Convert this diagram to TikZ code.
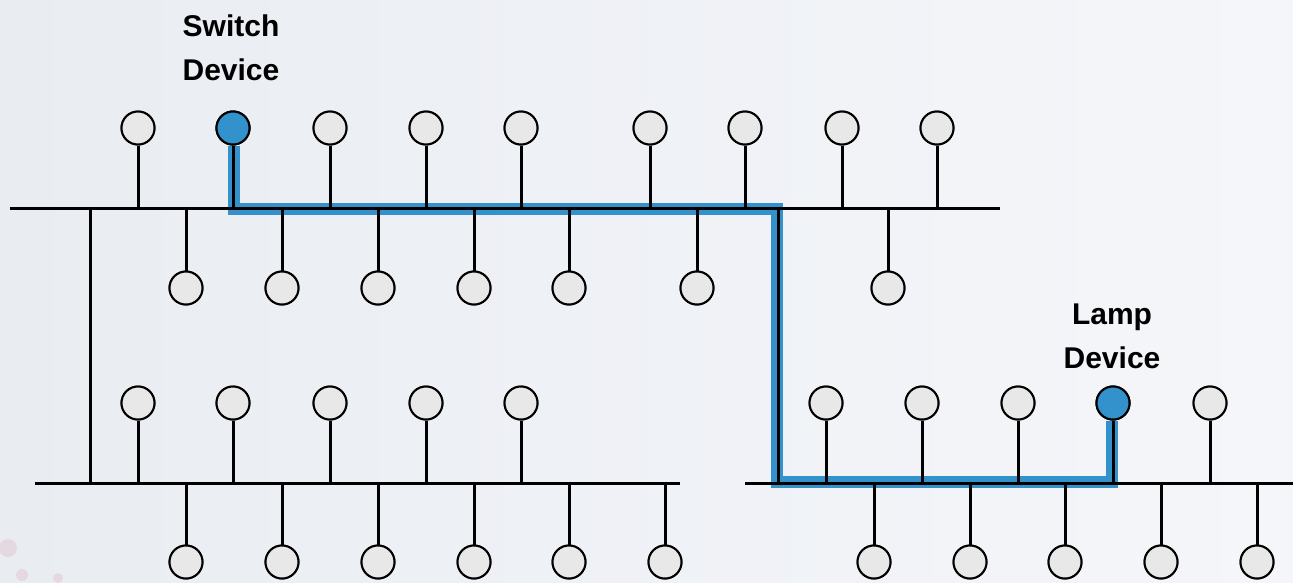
\documentclass[tikz,border=0pt]{standalone}
\usepackage{fontspec}
\setmainfont{Liberation Sans}
\usetikzlibrary{calc}

\definecolor{bgleft}{HTML}{E9EDF2}
\definecolor{bgright}{HTML}{F5F6FA}
\definecolor{nodegrey}{HTML}{E8E8E8}
\definecolor{pathblue}{HTML}{3391CC}
\definecolor{blushpink}{HTML}{D9AEB8}

\tikzset{
  device/.style={circle, draw=black, line width=2pt, fill=nodegrey,
    minimum size=33pt, inner sep=0pt},
  active/.style={device, fill=pathblue},
  bus/.style={line width=3pt, draw=black},
  stem/.style={line width=3pt, draw=black},
  route/.style={line width=12pt, draw=pathblue, line join=miter},
  caption/.style={font=\bfseries\fontsize{30}{44}\selectfont, align=center,
    inner sep=0pt, text=black}
}

\begin{document}
\begin{tikzpicture}[x=1pt, y=-1pt]
  % canvas
  \useasboundingbox (0,0) rectangle (1293,582);
  \shade[left color=bgleft, right color=bgright] (0,0) rectangle (1293,582);
  \foreach \cx/\cy/\r in {8/548/9, 22/575/6, 58/578/5}
    \fill[blushpink, opacity=0.3] (\cx,\cy) circle (\r);

  % bus end points and junctions
  \coordinate (topL) at (10,208);
  \coordinate (topR) at (1000,208);
  \coordinate (lowLL) at (35,483);
  \coordinate (lowLR) at (680,483);
  \coordinate (lowRL) at (745,483);
  \coordinate (lowRR) at (1293,483);
  \coordinate (linkA) at (90,208);
  \coordinate (linkB) at (778,208);

  % devices
  \foreach \x [count=\i] in {138,233,330,426,521,650,745,842,937}
    \node[device] (tu\i) at (\x,128) {};
  \foreach \x [count=\i] in {186,282,378,474,569,697,888}
    \node[device] (td\i) at (\x,288) {};
  \foreach \x [count=\i] in {138,233,330,426,521}
    \node[device] (lu\i) at (\x,403) {};
  \foreach \x [count=\i] in {186,282,378,474,569,665}
    \node[device] (ld\i) at (\x,562) {};
  \foreach \x [count=\i] in {826,922,1018,1113,1210}
    \node[device] (ru\i) at (\x,403) {};
  \foreach \x [count=\i] in {874,970,1065,1161,1257}
    \node[device] (rd\i) at (\x,562) {};

  % switch and lamp
  \node[active] (switch) at (tu2) {};
  \node[active] (lamp) at (ru4) {};

  % highlighted route from switch to lamp
  \coordinate (r1) at ($(switch.south)+(1,0)$);
  \coordinate (r2) at (234,209);
  \coordinate (r3) at (777,209);
  \coordinate (r4) at (777,482);
  \coordinate (r5) at (1112,482);
  \coordinate (r6) at ($(lamp.south)+(-1,0)$);
  \draw[route] (r1) -- (r2) -- (r3) -- (r4) -- (r5) -- (r6);

  % buses
  \draw[bus] (topL) -- (topR);
  \draw[bus] (lowLL) -- (lowLR);
  \draw[bus] (lowRL) -- (lowRR);
  \draw[bus] (linkA) -- (linkA |- lowLL);
  \draw[bus] (linkB) -- (linkB |- lowRL);

  % stems
  \foreach \i in {1,...,9}
    \draw[stem] (tu\i.south) -- (tu\i |- topL);
  \foreach \i in {1,...,7}
    \draw[stem] (td\i.north) -- (td\i |- topL);
  \foreach \i in {1,...,5}
    \draw[stem] (lu\i.south) -- (lu\i |- lowLL);
  \foreach \i in {1,...,6}
    \draw[stem] (ld\i.north) -- (ld\i |- lowLL);
  \foreach \i in {1,...,5}
    \draw[stem] (ru\i.south) -- (ru\i |- lowRL);
  \foreach \i in {1,...,5}
    \draw[stem] (rd\i.north) -- (rd\i |- lowRL);

  % redraw devices above the stems
  \foreach \n in {tu1,tu3,tu4,tu5,tu6,tu7,tu8,tu9,td1,td2,td3,td4,td5,td6,td7,
                  lu1,lu2,lu3,lu4,lu5,ld1,ld2,ld3,ld4,ld5,ld6,
                  ru1,ru2,ru3,ru5,rd1,rd2,rd3,rd4,rd5}
    \node[device] at (\n) {};
  \node[active] at (switch) {};
  \node[active] at (lamp) {};

  % captions
  \node[caption] (switchlabel) at (231,48) {Switch\\Device};
  \node[caption] (lamplabel) at (1112,336) {Lamp\\Device};
\end{tikzpicture}
\end{document}
